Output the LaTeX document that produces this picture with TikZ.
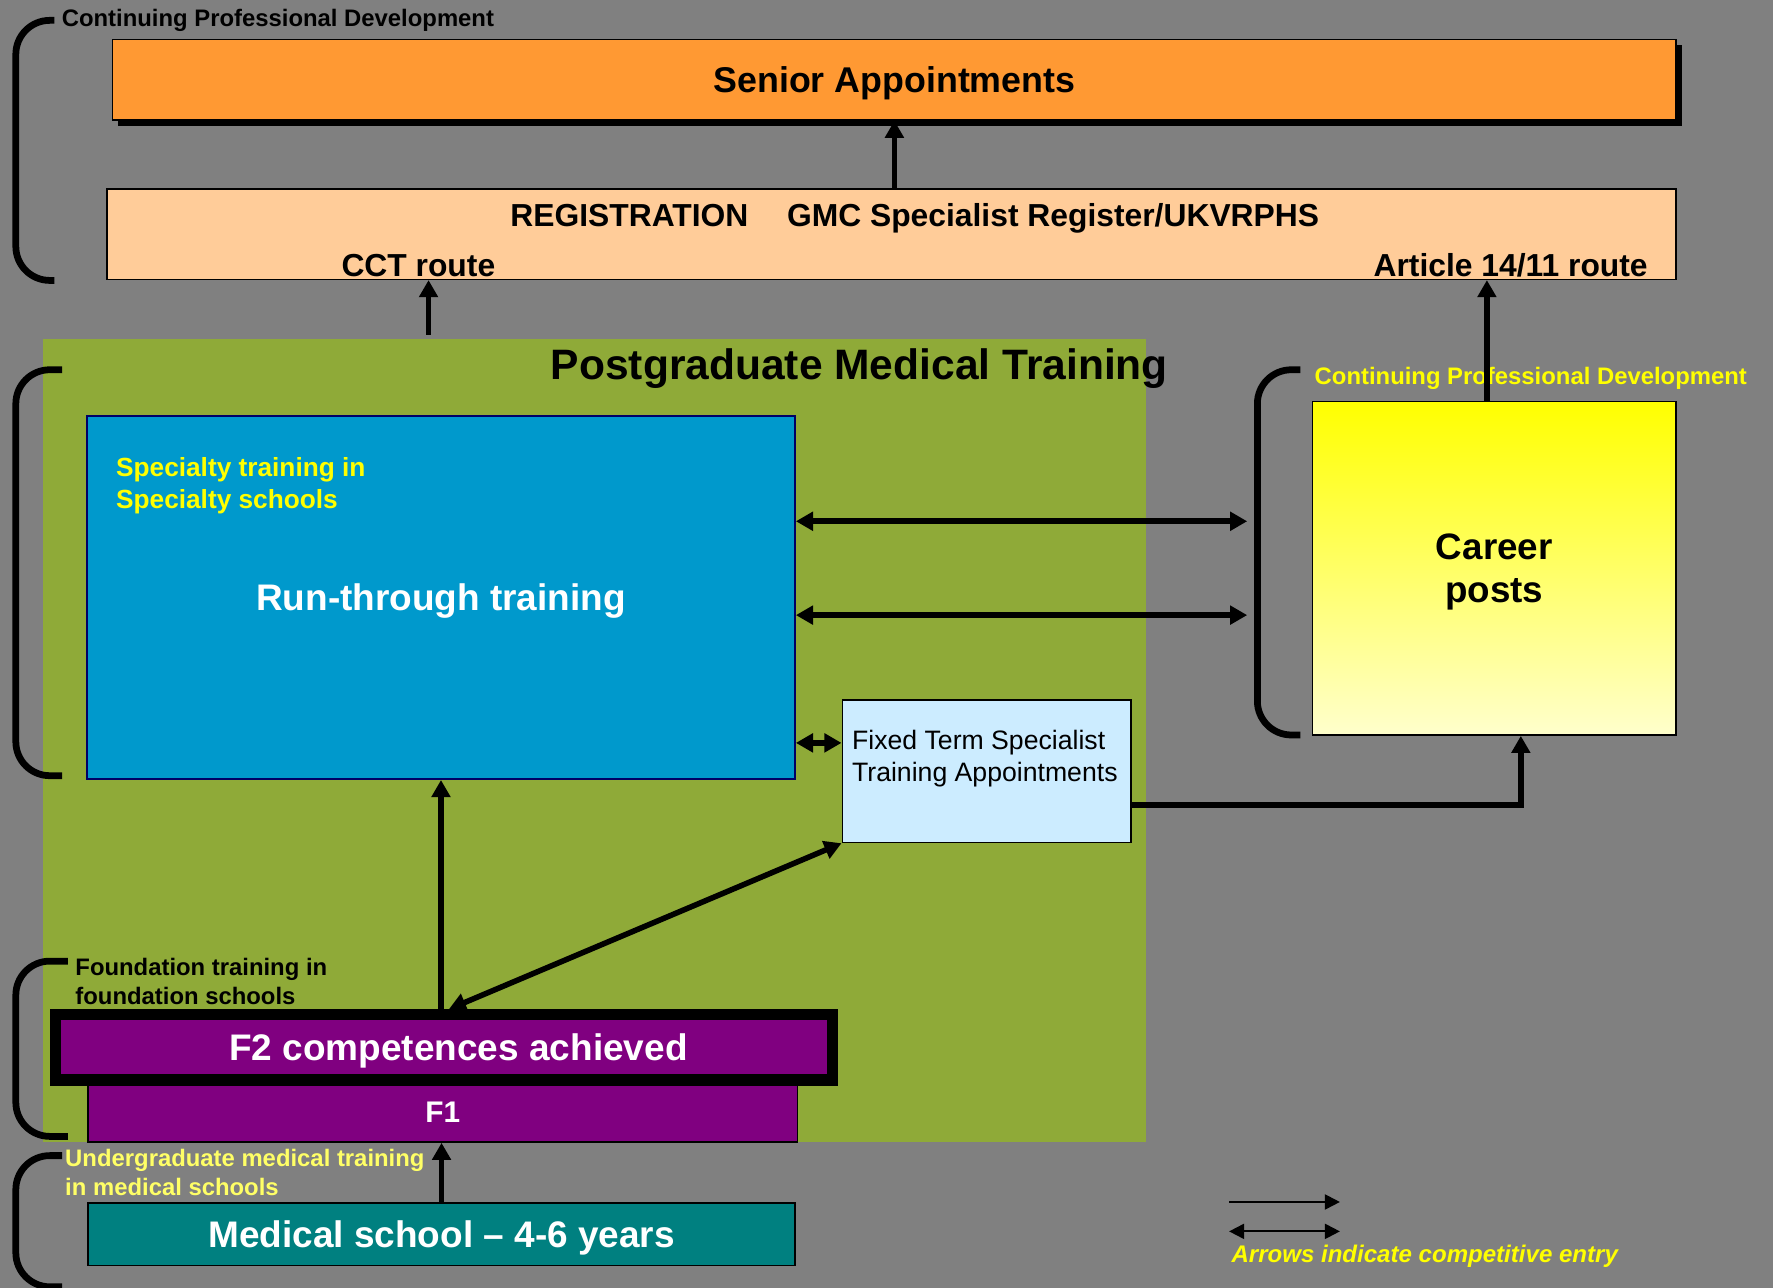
\documentclass[tikz,border=0pt]{standalone}
\usepackage{fontspec}
\setmainfont{Liberation Sans}
\usetikzlibrary{arrows.meta}
\usetikzlibrary{shadows}

\definecolor{bggrey}{HTML}{808080}
\definecolor{pgreen}{HTML}{8FAA38}
\definecolor{seniororange}{HTML}{FF9933}
\definecolor{regpeach}{HTML}{FFCC99}
\definecolor{runblue}{HTML}{0099CC}
\definecolor{runnavy}{HTML}{000066}
\definecolor{ftblue}{HTML}{CCECFF}
\definecolor{fpurple}{HTML}{800080}
\definecolor{medteal}{HTML}{008080}
\definecolor{txtyellow}{HTML}{FFFF00}
\definecolor{ugyellow}{HTML}{FFFF66}
\definecolor{paleyellow}{HTML}{FFFFCC}

\newcommand{\setfs}[2]{\fontsize{#1}{#2}\selectfont}

\begin{document}
\begin{tikzpicture}[x=0.01cm,y=-0.01cm]
            \tikzset{box/.style={draw=black, line width=0.4pt, inner sep=0pt, text depth=0pt}};
            \tikzset{arr/.style={line width=1.4pt, -{Triangle[length=4.3pt,width=4.6pt]}}};
            \tikzset{dblarr/.style={line width=1.4pt, {Triangle[length=4.3pt,width=4.6pt]}-{Triangle[length=4.3pt,width=4.6pt]}}};
            \tikzset{legarr/.style={line width=0.5pt, -{Triangle[length=3.8pt,width=3.8pt]}}};
            \tikzset{legdbl/.style={line width=0.5pt, {Triangle[length=3.8pt,width=3.8pt]}-{Triangle[length=3.8pt,width=3.8pt]}}};
            \tikzset{brace/.style={line width=1.7pt, rounded corners=0.3cm}};
            \tikzset{smallbold/.style={font=\bfseries\setfs{6}{7.1}}};
            
            \fill[bggrey] (0,0) rectangle (1568,1139);
            \useasboundingbox (0,0) rectangle (1568,1139);
            
            % top: senior posts and registration
            \draw[brace] (48,18) -| (14,248) -- (48,248);
            \node[smallbold, anchor=west, inner sep=0pt] (cpdtop) at (54,18) {Continuing Professional Development};
            
            \node[box, fill=seniororange, minimum width=13.82cm, minimum height=0.71cm,
                  drop shadow={fill=black, opacity=1, shadow xshift=0.05cm, shadow yshift=-0.05cm},
                  font=\bfseries\setfs{9}{11}] (senior) at (791,70.5) {Senior Appointments};
            
            \node[box, fill=regpeach, minimum width=13.87cm, minimum height=0.80cm] (reg) at (788.5,207) {};
            \node[font=\bfseries\setfs{8}{10}] (regtitle) at (809,193) {REGISTRATION\hspace{7.5pt} GMC Specialist Register/UKVRPHS};
            \node[font=\bfseries\setfs{8}{10}] (cct) at (370,235) {CCT route};
            \node[font=\bfseries\setfs{8}{10}] (art) at (1336,235) {Article 14/11 route};
            
            \draw[arr] (senior.south |- reg.north) -- (senior.south);
            
            % postgraduate area
            \node[fill=pgreen, inner sep=0pt, minimum width=9.75cm, minimum height=7.10cm] (pgmt) at (525.5,655) {};
            \node[font=\bfseries\setfs{10.7}{13}] (pgtitle) at (760,326) {Postgraduate Medical Training};
            
            \coordinate (cctx) at (379,296);
            \draw[arr] (cctx) -- (reg.south -| cctx);
            
            \draw[brace] (55,327) -| (14,686) -- (55,686);
            
            \node[draw=runnavy, line width=0.4pt, fill=runblue, inner sep=0pt, minimum width=6.26cm, minimum height=3.21cm,
                  text depth=0pt, text=white, font=\bfseries\setfs{9.3}{11}] (run) at (390,528.5) {Run-through training};
            \node[anchor=north west, align=left, inner sep=0pt, text=txtyellow, font=\bfseries\setfs{6.6}{8}] (spec) at (102,404) {Specialty training in\\Specialty schools};
            
            % career posts
            \draw[brace] (1150,327) -| (1112,650) -- (1150,650);
            \node[anchor=west, inner sep=0pt, text=txtyellow, font=\bfseries\setfs{6}{7.1}] (cpdright) at (1162,335) {Continuing Professional Development};
            \node[draw=black, line width=0.4pt, inner sep=0pt, top color=txtyellow, bottom color=paleyellow, minimum width=3.21cm, minimum height=2.95cm,
                  text depth=0pt, align=center, font=\bfseries\setfs{9.25}{11}] (career) at (1321.5,502.5) {Career\\posts};
            
            \coordinate (artx) at (1315,0);
            \draw[arr] (career.north -| artx) -- (reg.south -| artx);
            
            \node[box, fill=ftblue, minimum width=2.55cm, minimum height=1.26cm] (ftsta) at (872.5,682) {};
            \node[align=left, inner sep=0pt, font=\setfs{6.7}{8.2}] (ftstatext) at (871,671) {Fixed Term Specialist\\Training Appointments};
            
            \coordinate (r1) at (1103,461);
            \coordinate (r2) at (1103,544);
            \draw[dblarr] (run.east |- r1) -- (r1);
            \draw[dblarr] (run.east |- r2) -- (r2);
            
            \coordinate (fy) at (0,657);
            \draw[dblarr] (run.east |- fy) -- (ftsta.west |- fy);
            
            \coordinate (cj) at (1345,712);
            \draw[arr] (ftsta.east |- cj) -| (career.south -| cj);
            
            % foundation
            \draw[brace] (60,850) -| (14,1005) -- (60,1005);
            \node[smallbold, anchor=north west, align=left, inner sep=0pt] (found) at (66,847) {Foundation training in\\foundation schools};
            
            \node[box, fill=fpurple, minimum width=6.27cm, minimum height=0.52cm,
                  text=white, font=\bfseries\setfs{7.5}{9}] (f1) at (391.5,984) {F1};
            \node[draw=black, line width=2.84pt, fill=fpurple, inner sep=0pt, minimum width=6.87cm, minimum height=0.575cm,
                  text depth=0pt, text=white, font=\bfseries\setfs{9.3}{11}] (f2) at (392.5,926.25) {\hspace*{7.4pt}F2 competences achieved};
            
            \coordinate (dg) at (397,0);
            \draw[dblarr] (ftsta.south west) -- (f2.north -| dg);
            \draw[arr] (f2.north -| run.south) -- (run.south);
            
            % undergraduate
            \draw[brace] (55,1022) -| (14,1138) -- (55,1138);
            \node[smallbold, anchor=north west, align=left, inner sep=0pt, text=ugyellow] (ug) at (57,1016) {Undergraduate medical training\\in medical schools};
            
            \node[box, fill=medteal, minimum width=6.25cm, minimum height=0.55cm,
                  text=white, font=\bfseries\setfs{9.3}{11}] (med) at (390.5,1091.5) {Medical school -- 4-6 years};
            \draw[arr] (med.north) -- (f1.south -| med.north);
            
            % legend
            \coordinate (la) at (1087,1063);
            \coordinate (lb) at (1185,1063);
            \coordinate (lc) at (1087,1089);
            \coordinate (ld) at (1185,1089);
            \draw[legarr] (la) -- (lb);
            \draw[legdbl] (lc) -- (ld);
            \node[text=txtyellow, font=\bfseries\itshape\setfs{6.05}{7}] (legend) at (1260,1111) {Arrows indicate competitive entry};
\end{tikzpicture}
\end{document}
